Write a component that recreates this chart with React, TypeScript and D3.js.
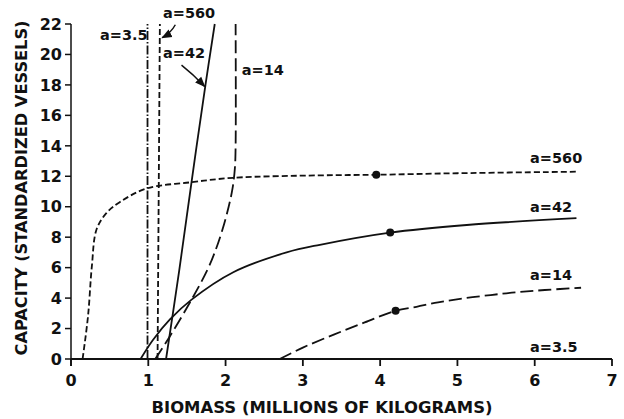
import React from "react";
import * as d3 from "d3";

type P = [number, number];

// Tick labels
const xTicks = [0, 1, 2, 3, 4, 5, 6, 7];
const yTicks = [0, 2, 4, 6, 8, 10, 12, 14, 16, 18, 20, 22];

// Series (biomass, capacity)
const a560Rising: P[] = [[0.15, 0], [0.22, 2.8], [0.27, 6.1], [0.33, 8.5], [0.46, 9.6], [0.63, 10.3], [0.98, 11.2], [1.54, 11.6], [2.1, 11.9], [3.22, 12.06], [3.95, 12.1], [5.0, 12.2], [6.54, 12.3]];
const a560Vertical: P[] = [[1.12, 0], [1.15, 22]];
const a42Rising: P[] = [[0.9, 0], [1.06, 1.25], [1.28, 2.6], [1.56, 3.9], [2.1, 5.7], [2.79, 7.0], [3.22, 7.5], [4.13, 8.3], [5.12, 8.8], [6.54, 9.25]];
const a42Vertical: P[] = [[1.23, 0], [1.4, 5.8], [1.57, 12], [1.74, 18], [1.86, 22]];
const a14Rising: P[] = [[2.7, 0], [3.0, 0.75], [3.4, 1.6], [3.8, 2.4], [4.2, 3.17], [4.47, 3.43], [4.75, 3.72], [5.07, 3.98], [5.43, 4.2], [5.75, 4.38], [6.13, 4.53], [6.6, 4.68]];
const a14Vertical: P[] = [[1.09, 0], [1.28, 1.5], [1.56, 3.9], [1.76, 5.8], [1.86, 7.0], [1.96, 8.5], [2.04, 10], [2.09, 11.2], [2.12, 12.5], [2.13, 14], [2.13, 22]];
const a35Flat: P[] = [[1.0, 0], [7.0, 0]];
const a35Vertical: P[] = [[0.99, 0], [0.99, 22]];

// Marked points
const dots: P[] = [[3.95, 12.1], [4.13, 8.3], [4.2, 3.17]];

// Labels: text, x, y (data units)
const rightLabels: [string, number, number][] = [
  ["a=560", 5.94, 12.87],
  ["a=42", 5.94, 9.65],
  ["a=14", 5.94, 5.19],
  ["a=3.5", 5.94, 0.46],
];
const topLabels: [string, number, number][] = [
  ["a=3.5", 0.375, 20.95],
  ["a=560", 1.19, 22.4],
  ["a=42", 1.19, 19.76],
  ["a=14", 2.21, 18.65],
];

const W = 624, H = 419;
const x = d3.scaleLinear().domain([0, 7]).range([71, 612]);
const y = d3.scaleLinear().domain([0, 22]).range([359, 24]);

const line = d3.line<P>().x(d => x(d[0])).y(d => y(d[1])).curve(d3.curveCatmullRom.alpha(0.5));

const FONT = "'DejaVu Sans', 'Liberation Sans', sans-serif";
const INK = "#111";

export default function App() {
  const series: { d: P[]; dash: string }[] = [
    { d: a35Vertical, dash: "9,2,1.5,2" },
    { d: a35Flat, dash: "9,2,1.5,2" },
    { d: a560Vertical, dash: "6,3" },
    { d: a560Rising, dash: "6,3" },
    { d: a42Vertical, dash: "" },
    { d: a42Rising, dash: "" },
    { d: a14Vertical, dash: "13,5" },
    { d: a14Rising, dash: "13,5" },
  ];
  return (
    <svg width={W} height={H} style={{ position: "absolute", left: 0, top: 0, background: "#fff" }}>
      <defs>
        <marker id="ah" viewBox="0 0 10 10" refX="9" refY="5" markerWidth="7" markerHeight="7" orient="auto">
          <path d="M0,1 L10,5 L0,9 z" fill={INK} />
        </marker>
      </defs>
      {/* axes */}
      <line x1={x(0)} x2={x(7)} y1={y(0)} y2={y(0)} stroke={INK} strokeWidth={2} />
      <line x1={x(0)} x2={x(0)} y1={y(0) + 7} y2={y(22)} stroke={INK} strokeWidth={1.5} />
      {xTicks.map(t => (
        <g key={"xt" + t}>
          <line x1={x(t)} x2={x(t)} y1={y(0)} y2={y(0) + 7} stroke={INK} strokeWidth={1.8} />
          <text x={x(t)} y={386} textAnchor="middle" fontFamily={FONT} fontWeight="bold" fontSize={16} fill={INK}>{t}</text>
        </g>
      ))}
      {yTicks.map(t => (
        <g key={"yt" + t}>
          <line x1={x(0) - 6} x2={x(0)} y1={y(t)} y2={y(t)} stroke={INK} strokeWidth={1.5} />
          <text x={62} y={y(t)} dy="0.36em" textAnchor="end" fontFamily={FONT} fontWeight="bold" fontSize={16} fill={INK}>{t}</text>
        </g>
      ))}
      <text x={322} y={413} textAnchor="middle" fontFamily={FONT} fontWeight="bold" fontSize={15.5} fill={INK} textLength={341} lengthAdjust="spacingAndGlyphs">BIOMASS (MILLIONS OF KILOGRAMS)</text>
      <text transform={`translate(27,${188}) rotate(-90)`} textAnchor="middle" fontFamily={FONT} fontWeight="bold" fontSize={15.5} fill={INK} textLength={335} lengthAdjust="spacingAndGlyphs">CAPACITY (STANDARDIZED VESSELS)</text>
      {/* curves */}
      {series.map((s, i) => (
        <path key={"s" + i} d={line(s.d) || ""} fill="none" stroke={INK} strokeWidth={1.8} strokeDasharray={s.dash || undefined} />
      ))}
      {dots.map((p, i) => (
        <circle key={"d" + i} cx={x(p[0])} cy={y(p[1])} r={4} fill={INK} />
      ))}
      {rightLabels.map(([t, a, b], i) => (
        <text key={"rl" + i} x={x(a)} y={y(b)} fontFamily={FONT} fontWeight="bold" fontSize={14.5} fill={INK}>{t}</text>
      ))}
      {topLabels.map(([t, a, b], i) => (
        <text key={"tl" + i} x={x(a)} y={y(b)} fontFamily={FONT} fontWeight="bold" fontSize={14.5} fill={INK}>{t}</text>
      ))}
      {/* arrows */}
      <path d={`M${x(1.35)},${y(21.95)} Q${x(1.29)},${y(21.4)} ${x(1.18)},${y(21.1)}`} fill="none" stroke={INK} strokeWidth={1.5} markerEnd="url(#ah)" />
      <path d={`M${x(1.43)},${y(19.3)} Q${x(1.58)},${y(18.7)} ${x(1.73)},${y(17.9)}`} fill="none" stroke={INK} strokeWidth={1.5} markerEnd="url(#ah)" />
    </svg>
  );
}
